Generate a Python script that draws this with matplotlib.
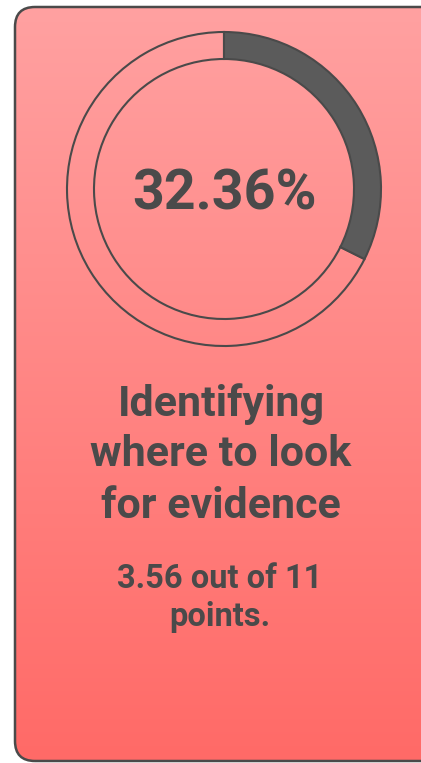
import numpy as np
import matplotlib.pyplot as plt
from matplotlib.patches import FancyBboxPatch, Wedge
from matplotlib.colors import LinearSegmentedColormap

# data
score = 3.56
max_points = 11
percent_label = "32.36%"
title_lines = ["Identifying", "where to look", "for evidence"]
sub_lines = ["3.56 out of 11", "points."]

W, H = 421, 763
dark = "#4a4a4a"

fig = plt.figure(figsize=(W / 100, H / 100), dpi=100)
ax = fig.add_axes([0, 0, 1, 1])
ax.set_xlim(0, W)
ax.set_ylim(0, H)
ax.axis("off")

# card with vertical gradient
card = FancyBboxPatch((15, 2), 440, 754, boxstyle="round,pad=0,rounding_size=20",
                      facecolor="none", edgecolor=dark, linewidth=1.8, zorder=3)
ax.add_patch(card)
cmap = LinearSegmentedColormap.from_list("card", ["#ff6a67", "#ffa1a1"])
grad = np.linspace(0, 1, 256).reshape(-1, 1)
img = ax.imshow(grad, cmap=cmap, extent=(15, 455, 2, 756), origin="lower",
                aspect="auto", zorder=1)
img.set_clip_path(card)

# ring
frac = score / max_points
cx, cy = 224, H - 189
r_out, ring_w = 157, 27
ax.add_patch(Wedge((cx, cy), r_out, 90, 450 - 360 * frac, width=ring_w,
                   facecolor="none", edgecolor=dark, linewidth=1.5, zorder=4))
ax.add_patch(Wedge((cx, cy), r_out, 90 - 360 * frac, 90, width=ring_w,
                   facecolor="#5b5b5b", edgecolor=dark, linewidth=1.5, zorder=5))

font = "Roboto"
ax.text(cx, H - 194, percent_label, ha="center", va="center", fontsize=40,
        fontweight="bold", color=dark, family=font, zorder=6)

for i, line in enumerate(title_lines):
    ax.text(221, H - (404 + 51 * i), line, ha="center", va="center", fontsize=31,
            fontweight="bold", color=dark, family=font, zorder=6)

for i, line in enumerate(sub_lines):
    ax.text(220, H - (579 + 38 * i), line, ha="center", va="center", fontsize=23.5,
            fontweight="bold", color=dark, family=font, zorder=6)

fig.savefig("out.png", dpi=100, facecolor="white")
